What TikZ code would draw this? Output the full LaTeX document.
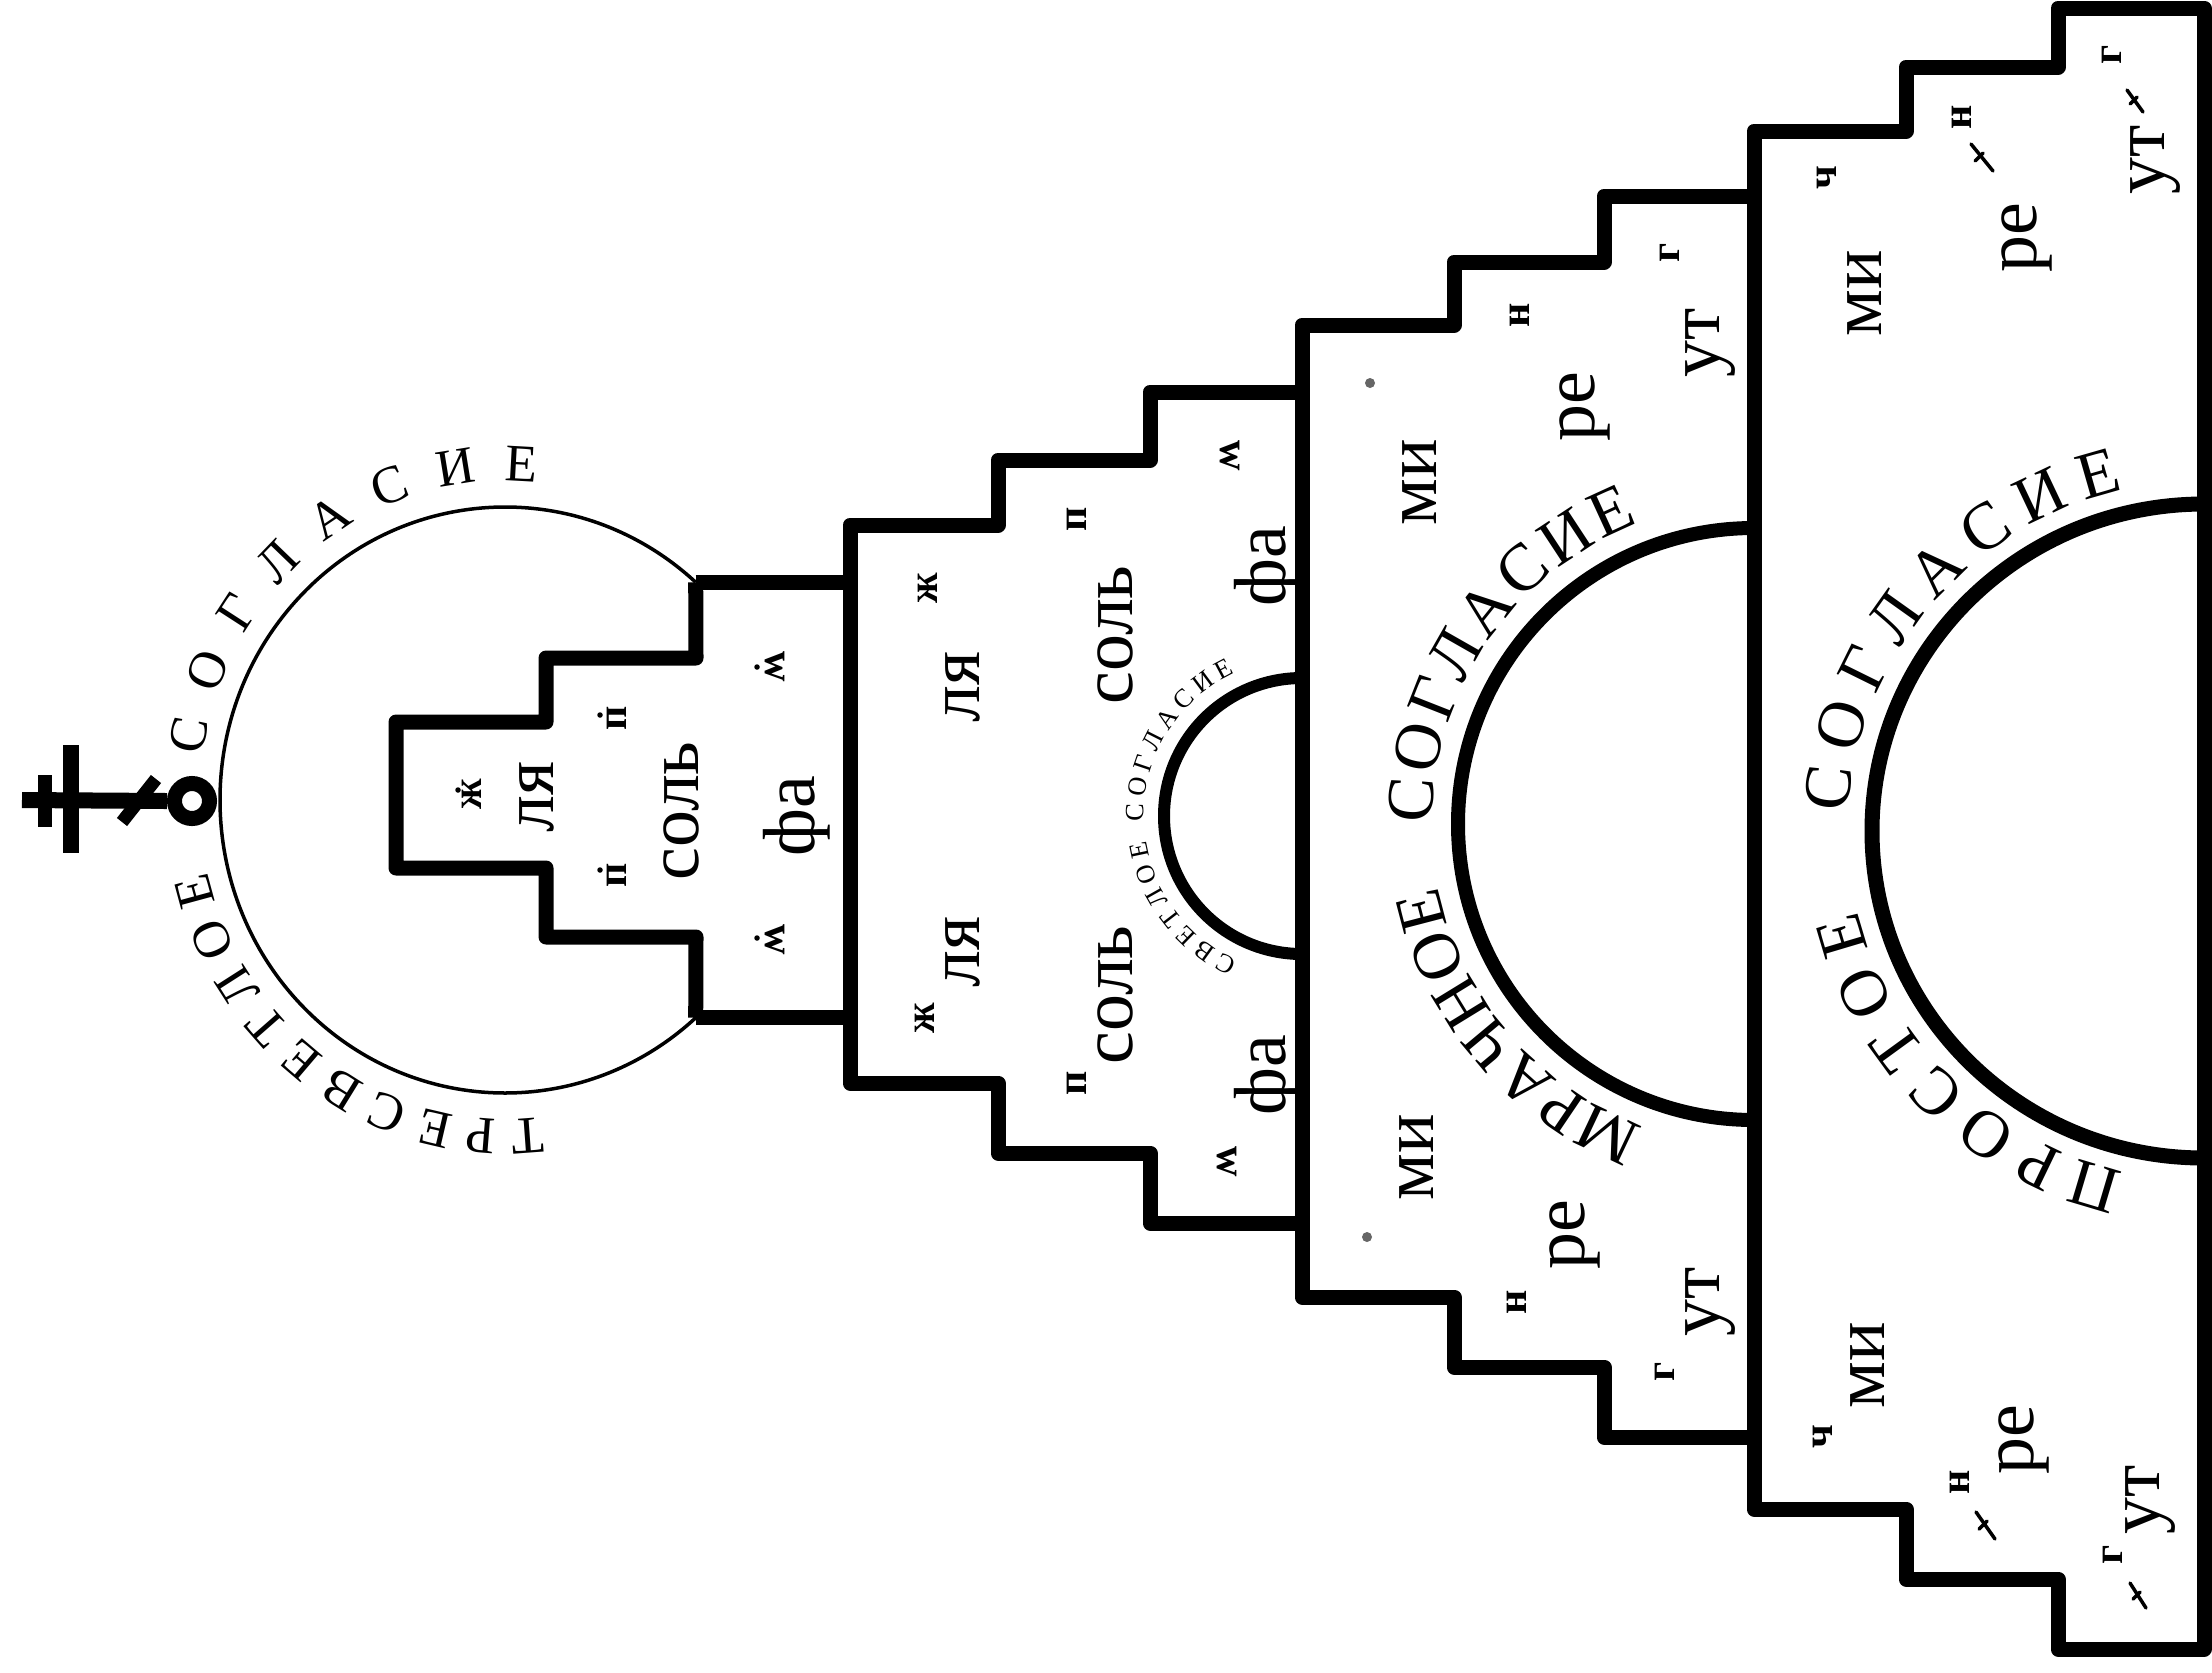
\documentclass[tikz,border=0pt]{standalone}
\usepackage{fontspec}
\setmainfont{Liberation Serif}
\usetikzlibrary{decorations.text}
\begin{document}
\begin{tikzpicture}[x=0.01cm,y=-0.01cm,
  wall/.style={line width=0.15cm, line join=round},
  lab/.style={rotate=90, font=\fontsize{21}{24}\selectfont, inner sep=0pt},
  mk/.style={rotate=90, font=\fontsize{12}{13}\selectfont\bfseries, inner sep=0pt},
  zig/.style={rotate=-90, font=\fontsize{12}{13}\selectfont\bfseries, inner sep=0pt},
  slash/.style={line width=0.035cm, line cap=round},
  pt/.style={circle, fill=black, draw=none, inner sep=0pt, minimum size=0.055cm},
  gpt/.style={circle, fill=black!60, draw=none, inner sep=0pt, minimum size=0.1cm}]
\useasboundingbox (0,0) rectangle (2212,1672);
\fill[white] (0,0) rectangle (2212,1672);

% ---- cross and ring
\node[circle, draw, line width=0.15cm, minimum size=0.35cm, inner sep=0pt] (ring) at (192,801) {};
\coordinate (crossend) at (22,800);
\draw[line width=0.16cm] (crossend) -- (ring.west);
\draw[line width=0.15cm] (71,745) -- (71,853);
\draw[line width=0.14cm] (45,775) -- (45,827);
\draw[line width=0.13cm] (122,822) -- (156,779);

% ---- great circle (tier 1)
\draw[line width=0.035cm] (505,800) ++(312:285 and 293) coordinate (ct)
  arc[start angle=312, end angle=48, x radius=285, y radius=293] coordinate (cb);
\coordinate (t2left) at (850,0);

% ---- tier 1 staircase
\draw[wall] (ct) -- (696,658) -- (546,658) -- (546,722) -- (396,722) -- (396,868)
  -- (546,868) -- (546,937) -- (696,937) -- (cb);
\draw[wall] (ct) -- (ct -| t2left);
\draw[wall] (cb) -- (cb -| t2left);

% ---- tiers 2-4 outline
\draw[wall] (850,525) -- (998,525) -- (998,460) -- (1150,460) -- (1150,392) -- (1302,392)
  -- (1302,325) -- (1454,325) -- (1454,262) -- (1604,262) -- (1604,196) -- (1754,196)
  -- (1754,131) -- (1906,131) -- (1906,67) -- (2058,67) -- (2058,8) -- (2204,8)
  -- (2204,1649) -- (2058,1649) -- (2058,1579) -- (1906,1579) -- (1906,1509) -- (1754,1509)
  -- (1754,1437) -- (1604,1437) -- (1604,1367) -- (1454,1367) -- (1454,1297) -- (1302,1297)
  -- (1302,1223) -- (1150,1223) -- (1150,1153) -- (998,1153) -- (998,1083) -- (850,1083) -- cycle;
\draw[wall] (1302,392) -- (1302,1223);
\draw[wall] (1754,196) -- (1754,1437);

% ---- half circles
\draw[line width=0.12cm] (1302,816) ++(270:138) arc[start angle=270, end angle=90, radius=138];
\draw[line width=0.14cm] (1754,824) ++(270:296) arc[start angle=270, end angle=90, radius=296];
\draw[line width=0.15cm] (2204,831) ++(270:332 and 327) arc[start angle=270, end angle=90, x radius=332, y radius=327];

% ---- arc texts
\path[decorate, decoration={text along path, text align=fit to path,
   text={|\fontsize{15}{15}\selectfont|ТРЕСВЕТЛОЕ}}]
  (505,800) ++(83:305 and 319) arc[start angle=83, end angle=167, x radius=305, y radius=319];
\path[decorate, decoration={text along path, text align=fit to path,
   text={|\fontsize{15}{15}\selectfont|СОГЛАСИЕ}}]
  (505,800) ++(188:305 and 319) arc[start angle=188, end angle=276, x radius=305, y radius=319];

\path[decorate, decoration={text along path, text align=fit to path,
   text={|\fontsize{7.5}{7.5}\selectfont|СВЕТЛОЕ СОГЛАСИЕ}}]
  (1302,816) ++(114:158) arc[start angle=114, end angle=245, radius=158];

\path[decorate, decoration={text along path, text align=fit to path,
   text={|\fontsize{19}{19}\selectfont|МРАЧНОЕ}}]
  (1754,824) ++(110:322) arc[start angle=110, end angle=169, radius=322];
\path[decorate, decoration={text along path, text align=fit to path,
   text={|\fontsize{19}{19}\selectfont|СОГЛАСИЕ}}]
  (1754,824) ++(180:322) arc[start angle=180, end angle=249, radius=322];

\path[decorate, decoration={text along path, text align=fit to path,
   text={|\fontsize{19}{19}\selectfont|ПРОСТОЕ}}]
  (2204,831) ++(103:356 and 350) arc[start angle=103, end angle=167, x radius=356, y radius=350];
\path[decorate, decoration={text along path, text align=fit to path,
   text={|\fontsize{19}{19}\selectfont|СОГЛАСИЕ}}]
  (2204,831) ++(183:356 and 350) arc[start angle=183, end angle=257, x radius=356, y radius=350];

% ---- tier 1 labels
\node[lab] (t1la) at (537,797) {ля};
\node[lab] (t1sol) at (681,811) {соль};
\node[lab] (t1fa) at (797,816) {фа};
\node[pt] (t1lad) at (458,790) {};
\node[mk] (t1lam) at (472,794) {ж};
\node[pt] (t1sd1) at (600,715) {};
\node[mk] (t1sm1) at (617,718) {п};
\node[pt] (t1sd2) at (600,870) {};
\node[mk] (t1sm2) at (617,875) {п};
\node[pt] (t1fd1) at (757,667) {};
\node[zig] (t1fm1) at (775,667) {w};
\node[pt] (t1fd2) at (757,938) {};
\node[zig] (t1fm2) at (775,940) {w};

% ---- tier 2 labels
\node[lab] (t2la1) at (963,687) {ля};
\node[lab] (t2la2) at (963,952) {ля};
\node[mk] (t2lam1) at (928,588) {ж};
\node[mk] (t2lam2) at (925,1018) {ж};
\node[lab] (t2sol1) at (1115,635) {соль};
\node[lab] (t2sol2) at (1115,995) {соль};
\node[mk] (t2sm1) at (1077,519) {п};
\node[mk] (t2sm2) at (1077,1083) {п};
\node[lab] (t2fa1) at (1268,566) {фа};
\node[lab] (t2fa2) at (1268,1075) {фа};
\node[zig] (t2fm1) at (1230,456) {w};
\node[zig] (t2fm2) at (1227,1162) {w};

% ---- tier 3 labels
\node[lab] (t3mi1) at (1420,482) {ми};
\node[lab] (t3mi2) at (1417,1157) {ми};
\node[gpt] (t3d1) at (1370,383) {};
\node[gpt] (t3d2) at (1367,1237) {};
\node[lab] (t3re1) at (1585,407) {ре};
\node[lab] (t3re2) at (1575,1235) {ре};
\node[mk] (t3n1) at (1520,315) {н};
\node[mk] (t3n2) at (1517,1302) {н};
\node[lab] (t3ut1) at (1710,343) {ут};
\node[lab] (t3ut2) at (1710,1302) {ут};
\node[mk] (t3g1) at (1670,253) {г};
\node[mk] (t3g2) at (1665,1372) {г};

% ---- tier 4 labels
\node[lab] (t4mi1) at (1865,293) {ми};
\node[lab] (t4mi2) at (1868,1365) {ми};
\node[mk] (t4c1) at (1827,178) {ч};
\node[mk] (t4c2) at (1823,1437) {ч};
\node[lab] (t4re1) at (2027,238) {ре};
\node[lab] (t4re2) at (2024,1440) {ре};
\node[mk] (t4n1) at (1962,117) {н};
\node[mk] (t4n2) at (1960,1482) {н};
\node[lab] (t4ut1) at (2155,160) {ут};
\node[lab] (t4ut2) at (2150,1500) {ут};
\node[mk] (t4g1) at (2112,55) {г};
\node[mk] (t4g2) at (2113,1555) {г};
% small slanted strokes beside н and г
\draw[slash] (1971,144) -- (1993,171);
\draw[slash] (1975,161) -- (1983,153);
\draw[slash] (2127,90) -- (2143,112);
\draw[slash] (2130,104) -- (2137,97);
\draw[slash] (1976,1512) -- (1995,1539);
\draw[slash] (1979,1529) -- (1987,1521);
\draw[slash] (2130,1583) -- (2146,1608);
\draw[slash] (2133,1599) -- (2140,1592);
\end{tikzpicture}
\end{document}
